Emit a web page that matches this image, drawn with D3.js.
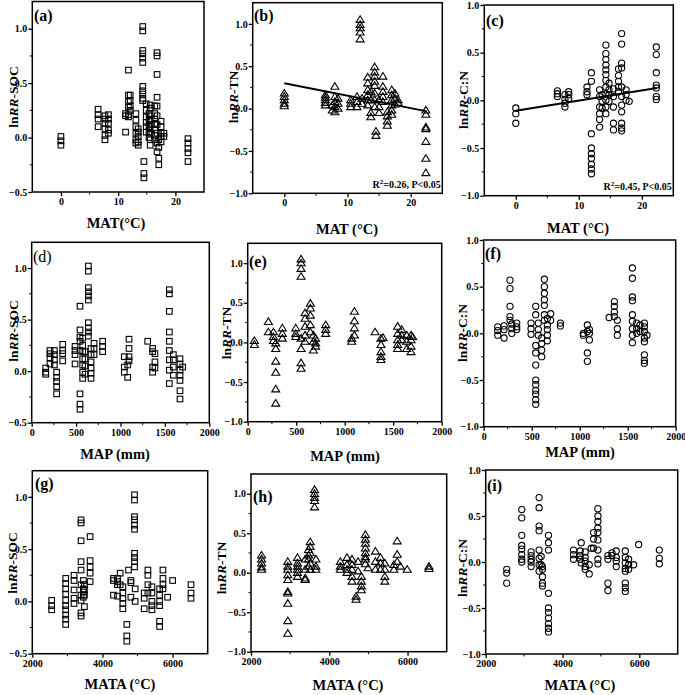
<!DOCTYPE html>
<html><head><meta charset="utf-8">
<script src="https://cdn.jsdelivr.net/npm/d3@7"></script>
<style>
body{margin:0;background:#fff}
svg{display:block}
text{font-family:"Liberation Serif","Times New Roman",serif;font-weight:bold;fill:#000}
</style>
</head><body>
<svg id="chart" width="685" height="695"></svg>
<script>
// ---------------- DATA ----------------
// Each group: [x value, [y values at that x]]
const socMAT = [
 [0,[0.01,-0.03,-0.07]],[6.5,[0.26,0.21,0.17,0.1]],[7.7,[0.2,0.17,0.13,0.08,0.02,-0.02]],
 [8.3,[0.21,0.17,0.13,0.07,0.04]],[11.3,[0.22,0.2,0.05]],[11.8,[0.62,0.39,0.33,0.28,0.21,0.19]],
 [12.1,[0.39,0.34,0.29,0.25]],[13.1,[0.22,0.16,0.1,0.04,-0.02,-0.05]],[13.5,[0.08,0.05,0.01,-0.04,-0.07]],
 [14.3,[1.02,0.98,0.8,0.77,0.73,0.69,0.47,0.43,0.4,0.36,0.34]],[14.5,[-0.22,-0.33,-0.37]],
 [14.9,[0.31,0.25,0.19,0.14,0.1,0.05]],[15.4,[0.22,0.16,0.1,0.05,0.0]],
 [15.6,[0.3,0.27,0.2,0.16,0.12,0.08,0.04,-0.02,-0.07]],[16.4,[0.29,0.22,0.17,0.13,0.07,0.02,-0.02]],
 [16.8,[0.78,0.75,0.58,0.37,0.29,0.2,0.12,0.04,-0.05,-0.13]],[17.1,[-0.02,-0.09,-0.19,-0.25]],
 [17.5,[0.15,0.1,0.04,0.01,-0.04]],[18,[0.04,0.01]],[22.2,[-0.01,-0.05,-0.1,-0.14,-0.22]]
];
const tnMAT = [
 [0,[0.18,0.14,0.1,0.06,0.03]],[6.5,[0.16,0.13,0.1,0.07,0.04]],[7.6,[0.04,-0.02]],
 [8.0,[0.26,0.14,0.08,0.02,-0.04]],[8.5,[0.12,0.06,0.0]],[10.5,[0.1,0.06,0.02]],
 [11.5,[0.14,0.08,0.02]],[12.0,[1.05,0.99,0.95,0.9,0.82]],[12.3,[0.12,0.06]],
 [13.2,[0.37,0.3,0.22,0.16,0.1,0.04]],[13.7,[0.2,0.1,-0.05,-0.1]],
 [14.3,[0.49,0.43,0.38,0.32,0.27,0.18,0.1,0.02]],[14.5,[-0.27,-0.32]],[15.0,[0.1,0.02,-0.05]],
 [15.6,[0.38,0.26,0.2,0.14,0.08]],[16.3,[-0.04,-0.09,-0.15,-0.2]],
 [17.0,[0.22,0.16,0.1,0.04,-0.02,-0.07]],[17.5,[0.18,0.12,0.05]],[18.0,[0.1,0.07]],
 [22.4,[-0.02,-0.07,-0.22,-0.24,-0.39,-0.59,-0.76]]
];
const cnMAT = [
 [0,[-0.08,-0.14,-0.24]],[6.6,[0.1,0.07,0.04]],[7.8,[0.06,0.01,-0.03,-0.07]],[8.4,[0.09,0.06,0.02]],
 [11.3,[0.14,0.09,0.06]],[12.0,[0.29,0.2,-0.35,-0.5,-0.56,-0.61,-0.67,-0.72,-0.77]],
 [13.3,[0.11,0.04,-0.07,-0.14,-0.2,-0.28]],[13.7,[0.06,-0.01,-0.08]],
 [14.3,[0.58,0.49,0.43,0.37,0.32,0.27,0.21,0.14,0.07,0.0,-0.07,-0.14]],[14.8,[0.18,0.11,0.06,-0.01]],
 [15.5,[0.12,0.04,-0.07,-0.24,-0.31]],[16.3,[0.33,0.26,0.2,0.14,0.09]],
 [16.8,[0.7,0.59,0.39,0.34,0.14,0.04,-0.05,-0.12,-0.24,-0.29,-0.32]],[17.5,[0.11,0.06,0.0]],
 [18.0,[-0.01]],[22.3,[0.56,0.48,0.29,0.16,0.13,0.04,0.01]]
];
const socMAP = [
 [158,[0.03,-0.01,-0.03]],[206,[0.2,0.17,0.13,0.07]],[255,[0.2,0.16,0.11,0.06]],
 [281,[-0.01,-0.06,-0.1,-0.15,-0.22]],[349,[0.26,0.2,0.17,0.1]],[488,[0.24,0.2,0.16,0.07]],
 [544,[0.63,0.4,0.33,0.29,0.2,-0.22,-0.32,-0.37]],[574,[0.32,0.25,0.19,0.12,0.06,-0.01,-0.07]],
 [600,[0.19,0.12,0.05,-0.03]],[638,[1.02,0.97,0.81,0.77,0.73,0.69,0.47,0.42,0.38,0.34]],
 [668,[0.22,0.16,0.09,0.03,-0.02,-0.07]],[702,[0.27,0.22,0.16]],[799,[0.29,0.24,0.19]],
 [1043,[0.14,0.04,-0.01]],[1081,[0.06,-0.06]],[1096,[0.31,0.22,0.14,0.1]],[1306,[0.29]],
 [1362,[0.22,0.19,0.04,-0.01]],[1388,[0.17,0.09,0.03]],
 [1550,[0.79,0.75,0.58,0.38,0.29,0.2,0.11,0.01,-0.12]],[1595,[0.16,0.11,0.04,-0.04]],
 [1670,[0.12,0.07,0.01,-0.04,-0.09,-0.19,-0.27]],[1700,[0.04]]
];
const tnMAP = [
 [69,[0.02,-0.03]],[213,[0.26,0.13]],[265,[0.13,0.07,0.02]],[289,[-0.01,-0.08,-0.24,-0.38,-0.59,-0.77]],
 [357,[0.18,0.11,0.05]],[495,[0.18,0.11,0.07]],[550,[1.05,1.0,0.93,0.83,0.05,-0.08,-0.26,-0.33]],
 [591,[0.37,0.3,0.2,0.09,0.01]],[646,[0.49,0.43,0.34,0.22,0.13]],[677,[0.09,0.01,-0.1]],
 [700,[0.05,-0.01,-0.05]],[804,[0.22,0.16,0.11]],[1072,[0.05,0.01]],[1100,[0.39,0.27,0.18,0.09]],
 [1313,[0.13]],[1374,[0.05,-0.03,-0.12,-0.18,-0.22]],[1395,[0.06]],
 [1546,[0.2,0.11,0.03,-0.03,-0.08]],[1587,[0.16,0.09,0.03]],[1639,[0.09,0.01,-0.08]],
 [1684,[0.09,0.03,-0.05,-0.12]],[1700,[0.07]]
];
const cnMAP = [
 [146,[0.07,0.03,-0.02]],[212,[0.08,0.04,-0.05]],[274,[0.57,0.48,0.29,0.18,0.14]],[292,[0.1,0.05,0.0]],
 [344,[0.11,0.07,0.04]],[493,[0.11,0.05,-0.01]],
 [542,[0.29,0.2,-0.13,-0.21,-0.34,-0.5,-0.55,-0.61,-0.65,-0.71,-0.76]],[569,[0.11,0.04,-0.02]],
 [604,[-0.05,-0.11,-0.18,-0.25]],[632,[0.58,0.5,0.43,0.36,0.3,0.2,0.14]],
 [663,[0.16,0.09,0.04,-0.02,-0.08]],[698,[0.21,0.14]],[799,[0.11,0.08]],[1038,[0.0,-0.02]],
 [1080,[0.09,0.02,-0.21,-0.3]],[1101,[0.04,0.0,-0.07]],[1306,[0.17]],[1361,[0.34,0.29,0.23,0.18]],
 [1392,[0.14,0.05,-0.02]],[1549,[0.7,0.59,0.39,0.35,0.2,0.13,0.05,-0.02,-0.1]],
 [1594,[0.11,0.05,0.0]],[1628,[0.09,0.02]],[1674,[0.11,0.07,0.02,-0.05,-0.09,-0.23,-0.29,-0.32]],
 [1701,[-0.02]]
];
const socMATA = [
 [2552,[0.01,-0.04,-0.08]],[2952,[0.22,0.17,0.12,0.07,0.01,-0.04,-0.08,-0.13,-0.17,-0.22]],
 [3190,[0.25,0.2,0.11,0.03,-0.02]],[3390,[0.78,0.75,0.58,0.38,0.3,0.16,0.06,0.01,-0.11,-0.14]],
 [3457,[0.2,0.12,0.09,0.04]],[3486,[0.16,0.11,0.06,-0.05]],[3648,[0.62,0.39,0.33,0.27,0.19]],
 [4314,[0.22,0.2,0.06]],[4429,[0.22,0.19,0.16,0.05]],[4505,[0.27,0.16]],
 [4581,[0.14,0.08,0.03,-0.02,-0.07]],[4695,[-0.22,-0.33,-0.38]],[4743,[0.3]],[4810,[0.2,0.18,0.04]],
 [4914,[1.02,0.97,0.81,0.78,0.73,0.69,0.46,0.42,0.38,0.33]],[4933,[0.12,0.0]],
 [5190,[0.08,0.03,-0.07]],[5295,[0.3,0.25,0.16,0.08]],[5410,[0.14,0.08,0.0,-0.04,-0.08]],
 [5629,[0.12,0.06,0.0,-0.04,-0.19,-0.24]],[5724,[0.3,0.22,0.16,0.12]],[5857,[0.04]],[6000,[0.2]],
 [6524,[0.16,0.08,0.03]]
];
const tnMATA = [
 [2270,[0.22,0.17,0.12,0.07,0.04]],[2940,[0.14,0.08,0.04,-0.03,-0.09,-0.24,-0.26,-0.39,-0.61,-0.77]],
 [3188,[0.19,0.12,0.08,0.04,0.0,-0.05]],[3385,[0.17,0.04,-0.07,-0.09]],[3470,[0.29,0.22,0.17,0.08]],
 [3513,[0.39,0.33,0.25,0.12,0.04]],[3624,[1.05,1.0,0.95,0.91,0.83]],[3658,[0.17,0.08,0.04]],
 [4282,[0.14,0.08,0.04]],[4453,[0.19,0.1,0.04,0.0]],[4581,[0.17,0.1,0.04,-0.05,-0.11]],
 [4684,[-0.3,-0.34]],[4735,[0.14,0.02]],[4820,[-0.05,-0.11,-0.17,-0.22]],
 [4923,[0.48,0.42,0.37,0.31,0.25,0.2,0.17,0.11]],[4991,[0.06]],[5179,[0.27,0.14,0.04]],
 [5308,[0.19,0.12,0.04]],[5419,[0.12,0.04,-0.05,-0.11]],[5650,[0.1,0.04]],[5735,[0.4,0.23,0.14]],
 [5820,[0.08]],[5991,[0.04]],[6547,[0.08,0.05]]
];
const cnMATA = [
 [2548,[-0.08,-0.12,-0.23]],[2939,[0.57,0.48,0.29,0.18,0.14,0.08,0.03,0.0]],
 [3183,[0.11,0.07,0.03,0.0,-0.05]],[3391,[0.7,0.59,0.39,0.34,0.13,0.04,-0.03,-0.1]],
 [3444,[0.06,-0.03]],[3478,[-0.05,-0.08,-0.16,-0.23,-0.26]],
 [3635,[0.29,0.21,0.13,-0.34,-0.5,-0.55,-0.61,-0.67,-0.72,-0.76]],[4287,[0.13,0.08,0.03]],
 [4461,[0.12,0.07,0.03]],[4487,[0.21,-0.01]],[4591,[0.11,0.05,0.01,-0.05,-0.08]],[4696,[-0.03,-0.13]],
 [4748,[0.15]],[4809,[0.32,0.25,0.15]],[4922,[0.58,0.5,0.44,0.37,0.32,0.24,0.13,0.03,-0.02]],
 [5183,[0.07,0.03,-0.23,-0.31]],[5287,[0.1,0.07]],[5400,[0.12,0.05,0.01,-0.05]],
 [5635,[0.12,0.05,-0.01,-0.07,-0.1,-0.23,-0.28,-0.32]],[5722,[0.03,-0.03,-0.08]],[5852,[-0.03]],
 [5983,[0.19]],[6522,[0.13,0.04,-0.02]]
];
// Fitted regression lines (endpoints)
const tnMATFit = [[0,0.30],[22.4,-0.03]];
const cnMATFit = [[0,-0.11],[22.4,0.13]];
const tnMATStat = ["0.26","0.05"];
const cnMATStat = ["0.45","0.05"];
// Ticks
const matTicks = [0,10,20], matMinor = [-5,5,15,25];
const mapTicks = [0,500,1000,1500,2000], mapMinor = [250,750,1250,1750];
const mataTicks = [2000,4000,6000], mataMinor = [3000,5000,7000];
const socTicks = [-0.5,0,0.5,1.0], socMinor = [-0.25,0.25,0.75];
const tnTicks = [-1,-0.5,0,0.5,1.0], tnMinor = [-0.75,-0.25,0.25,0.75];
const cnTicks = [-1,-0.5,0,0.5,1.0], cnMinor = [-0.75,-0.25,0.25,0.75];

// ---------------- LAYOUT ----------------
const svg = d3.select("#chart");
const panels = [
 {lab:"(a)",bold:true,data:socMAT,mk:"sq",box:[32.3,1.5,204,192],xd:[-5,25],yd:[-0.5,1.25],xt:matTicks,xm:matMinor,yt:socTicks,ym:socMinor,
  xtitle:"MAT(°C)",xtx:116,xty:228,ytitle:"-SOC",ytx:13,yty:97,labx:34,laby:21},
 {lab:"(b)",bold:true,data:tnMAT,mk:"tri",box:[252.7,2.7,442.3,193.3],xd:[-5,25],yd:[-1,1.25],xt:matTicks,xm:matMinor,yt:tnTicks,ym:tnMinor,
  xtitle:"MAT (°C)",xtx:347,xty:234,ytitle:"-TN",ytx:233,yty:97,labx:254,laby:21,fit:tnMATFit,stat:tnMATStat,statY:187.5},
 {lab:"(c)",bold:true,data:cnMAT,mk:"ci",box:[484.3,5,673.3,195.7],xd:[-5,25],yd:[-1,1],xt:matTicks,xm:matMinor,yt:cnTicks,ym:cnMinor,
  xtitle:"MAT (°C)",xtx:578,xty:233,ytitle:"-C:N",ytx:463,yty:100,labx:486,laby:26,fit:cnMATFit,stat:cnMATStat,statY:189.5},
 {lab:"(d)",bold:false,data:socMAP,mk:"sq",box:[31.7,242.3,209.3,422.7],xd:[0,2000],yd:[-0.5,1.25],xt:mapTicks,xm:mapMinor,yt:socTicks,ym:socMinor,
  xtitle:"MAP (mm)",xtx:115,xty:459,ytitle:"-SOC",ytx:13,yty:331,labx:33,laby:262},
 {lab:"(e)",bold:true,data:tnMAP,mk:"tri",box:[247.7,243.3,441.7,421.7],xd:[0,2000],yd:[-1,1.25],xt:mapTicks,xm:mapMinor,yt:tnTicks,ym:tnMinor,
  xtitle:"MAP (mm)",xtx:345,xty:461,ytitle:"-TN",ytx:226,yty:333,labx:249,laby:267},
 {lab:"(f)",bold:true,data:cnMAP,mk:"ci",box:[483.7,240,675.7,426.7],xd:[0,2000],yd:[-1,1],xt:mapTicks,xm:mapMinor,yt:cnTicks,ym:cnMinor,
  xtitle:"MAP (mm)",xtx:580,xty:457,ytitle:"-C:N",ytx:462,yty:333,labx:485,laby:259},
 {lab:"(g)",bold:true,data:socMATA,mk:"sq",box:[32.3,470.7,207.7,653.7],xd:[2000,7000],yd:[-0.5,1.25],xt:mataTicks,xm:mataMinor,yt:socTicks,ym:socMinor,
  xtitle:"MATA (°C)",xtx:120,xty:689,ytitle:"-SOC",ytx:12,yty:563,labx:35,laby:489},
 {lab:"(h)",bold:true,data:tnMATA,mk:"tri",box:[251,474,446.7,651.7],xd:[2000,7000],yd:[-1,1.25],xt:mataTicks,xm:mataMinor,yt:tnTicks,ym:tnMinor,
  xtitle:"MATA (°C)",xtx:348,xty:690,ytitle:"-TN",ytx:221,yty:568,labx:253,laby:502},
 {lab:"(i)",bold:true,data:cnMATA,mk:"ci",box:[485.7,470,677.7,654],xd:[2000,7000],yd:[-1,1],xt:mataTicks,xm:mataMinor,yt:cnTicks,ym:cnMinor,
  xtitle:"MATA (°C)",xtx:580,xty:690,ytitle:"-C:N",ytx:462,yty:568,labx:487,laby:491}
];

const fmtY = d3.format(".1f");
panels.forEach(p => {
  const [L,T,R,B] = p.box;
  const x = d3.scaleLinear().domain(p.xd).range([L,R]);
  const y = d3.scaleLinear().domain(p.yd).range([B,T]);
  const g = svg.append("g");

  // axes
  const xAxis = d3.axisBottom(x).tickValues(p.xt).tickSize(4).tickSizeOuter(0).tickFormat(d3.format("d"));
  const xg = g.append("g").attr("transform",`translate(0,${B})`).call(xAxis);
  const yAxis = d3.axisLeft(y).tickValues(p.yt).tickSize(4).tickSizeOuter(0).tickFormat(fmtY);
  const yg = g.append("g").attr("transform",`translate(${L},0)`).call(yAxis);
  [xg,yg].forEach(a=>{
    a.select(".domain").remove();
    a.selectAll("line").attr("stroke","#000").attr("stroke-width",1.3);
    a.selectAll("text").style("font-size","10px").style("font-family",'"Liberation Serif",serif').style("font-weight","bold").attr("fill","#000");
  });
  xg.selectAll("text").attr("dy","0.71em").attr("y",6);
  yg.selectAll("text").attr("x",-5).attr("dy","0.32em");
  // minor ticks
  g.selectAll(null).data(p.xm.filter(v=>v>p.xd[0]&&v<p.xd[1])).enter().append("line")
    .attr("x1",d=>x(d)).attr("x2",d=>x(d)).attr("y1",B).attr("y2",B+2.5).attr("stroke","#000").attr("stroke-width",1);
  g.selectAll(null).data(p.ym).enter().append("line")
    .attr("y1",d=>y(d)).attr("y2",d=>y(d)).attr("x1",L).attr("x2",L-2.5).attr("stroke","#000").attr("stroke-width",1);
  // frame
  g.append("rect").attr("x",L).attr("y",T).attr("width",R-L).attr("height",B-T)
    .attr("fill","none").attr("stroke","#000").attr("stroke-width",1.5);

  // points
  const pts = [];
  p.data.forEach(([xv,ys]) => ys.forEach(yv => pts.push([xv,yv])));
  const mg = g.append("g").attr("fill","none").attr("stroke","#000").attr("stroke-width",1.1);
  if (p.mk==="sq") {
    mg.selectAll("rect").data(pts).enter().append("rect")
      .attr("x",d=>x(d[0])-2.8).attr("y",d=>y(d[1])-2.8).attr("width",5.6).attr("height",5.6);
  } else if (p.mk==="tri") {
    mg.selectAll("path").data(pts).enter().append("path")
      .attr("d","M0,-3.9L4,2.7L-4,2.7Z").attr("transform",d=>`translate(${x(d[0])},${y(d[1])})`);
  } else {
    mg.selectAll("circle").data(pts).enter().append("circle")
      .attr("cx",d=>x(d[0])).attr("cy",d=>y(d[1])).attr("r",3.1);
  }

  // fit line
  if (p.fit) {
    g.append("path").datum(p.fit).attr("d",d3.line().x(d=>x(d[0])).y(d=>y(d[1])))
      .attr("stroke","#000").attr("stroke-width",2).attr("fill","none");
    const t = g.append("text").attr("x",R-1.5).attr("y",p.statY).attr("text-anchor","end").style("font-size","10px");
    t.append("tspan").text("R");
    t.append("tspan").attr("dy",-4).style("font-size","7px").text("2");
    t.append("tspan").attr("dy",4).text(`=${p.stat[0]}, P<${p.stat[1]}`);
  }

  // panel label
  g.append("text").attr("x",p.labx).attr("y",p.laby).style("font-size","16px")
    .style("font-weight",p.bold?"bold":"normal").text(p.lab);
  // x title
  g.append("text").attr("x",p.xtx).attr("y",p.xty).attr("text-anchor","middle").style("font-size","14.5px").text(p.xtitle);
  // y title
  const yt = g.append("text").attr("transform",`translate(${p.ytx},${p.yty}) rotate(-90)`)
    .attr("text-anchor","middle").attr("dy","0.35em").style("font-size","13.5px");
  yt.append("tspan").text("ln");
  yt.append("tspan").style("font-style","italic").text("RR");
  yt.append("tspan").text(p.ytitle);
});
</script>
</body></html>
